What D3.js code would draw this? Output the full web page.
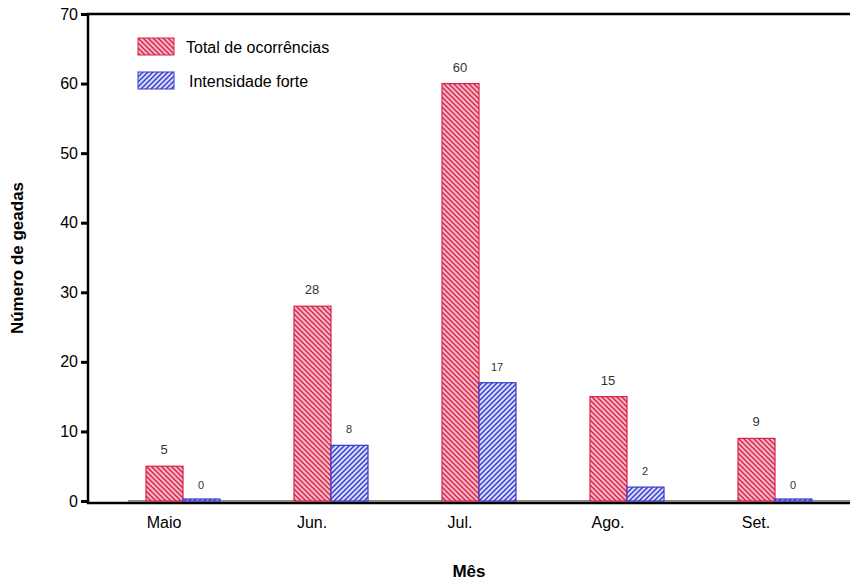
<!DOCTYPE html>
<html><head><meta charset="utf-8">
<script src="https://cdn.jsdelivr.net/npm/d3@7"></script>
<style>body{margin:0;background:#fff}text{font-family:Arial,"Liberation Sans",sans-serif}</style>
</head><body><div id="chart"></div>
<script>
const months = ["Maio", "Jun.", "Jul.", "Ago.", "Set."];
const total = [5, 28, 60, 15, 9];
const forte = [0, 8, 17, 2, 0];
const yTicks = [0, 10, 20, 30, 40, 50, 60, 70];

const W = 857, H = 585;

const svg = d3.select("#chart").append("svg").attr("width", W).attr("height", H);
const defs = svg.append("defs");
function hatch(id, bg, line, dir) {
  const p = defs.append("pattern").attr("id", id).attr("patternUnits", "userSpaceOnUse")
    .attr("width", 5).attr("height", 5);
  p.append("rect").attr("width", 5).attr("height", 5).attr("fill", bg);
  const d = dir > 0 ? "M-1,-1 L6,6 M-1,4 L1,6 M4,-1 L6,1" : "M-1,6 L6,-1 M-1,1 L1,-1 M4,6 L6,4";
  p.append("path").attr("d", d).attr("stroke", line).attr("stroke-width", 1.4);
}
hatch("hr", "#f7b8c6", "#d8204a", 1);
hatch("hb", "#d6dcff", "#3838c8", -1);

const x = d3.scaleBand().domain(months).range([90, 830]);
const y = d3.scaleLinear().domain([0, 70]).range([501, 14]);
const bw = 37;

// axes lines: top, left, bottom (no right border)
svg.append("path").attr("d", "M850,14 H88 V503 H850")
  .attr("fill", "none").attr("stroke", "#000").attr("stroke-width", 2.5);
svg.append("line").attr("x1", 128).attr("x2", 850).attr("y1", y(0)).attr("y2", y(0))
  .attr("stroke", "#888").attr("stroke-width", 2);

svg.append("g").attr("transform", "translate(88,0)")
  .call(d3.axisLeft(y).tickValues(yTicks).tickSize(7).tickPadding(3))
  .call(g => g.select(".domain").remove())
  .call(g => g.selectAll("line").attr("stroke-width", 3))
  .call(g => g.selectAll("text").attr("font-size", 16).attr("fill", "#000"));

svg.append("g").attr("transform", "translate(0,503)")
  .call(d3.axisBottom(x).tickSize(0).tickPadding(14))
  .call(g => g.select(".domain").remove())
  .call(g => g.selectAll("text").attr("font-size", 16).attr("fill", "#000"));

const cx = d => x(d) + x.bandwidth() / 2;

svg.selectAll(".rt").data(months).enter().append("rect")
  .attr("x", d => cx(d) - 18).attr("width", bw)
  .attr("y", (d, i) => y(total[i])).attr("height", (d, i) => y(0) - y(total[i]))
  .attr("fill", "url(#hr)").attr("stroke", "#d8204a").attr("stroke-width", 1.2);
svg.selectAll(".bf").data(months).enter().append("rect")
  .attr("x", d => cx(d) + 19).attr("width", bw)
  .attr("y", (d, i) => y(forte[i]) - (forte[i] ? 0 : 2)).attr("height", (d, i) => Math.max(2, y(0) - y(forte[i])))
  .attr("fill", "url(#hb)").attr("stroke", "#3838c8").attr("stroke-width", 1.2);

svg.selectAll(".lt").data(months).enter().append("text")
  .attr("x", d => cx(d)).attr("y", (d, i) => y(total[i]) - 12)
  .attr("text-anchor", "middle").attr("font-size", 13).attr("fill", "#333")
  .text((d, i) => total[i]);
svg.selectAll(".lf").data(months).enter().append("text")
  .attr("x", d => cx(d) + 37).attr("y", (d, i) => y(forte[i]) - 12)
  .attr("text-anchor", "middle").attr("font-size", 11).attr("fill", "#333")
  .text((d, i) => forte[i]);

// legend
const leg = [["Total de ocorrências", "url(#hr)", "#d8204a"], ["Intensidade forte", "url(#hb)", "#3838c8"]];
leg.forEach((l, i) => {
  svg.append("rect").attr("x", 138).attr("y", 38 + i * 34).attr("width", 36).attr("height", 17)
    .attr("fill", l[1]).attr("stroke", l[2]);
  svg.append("text").attr("x", 186 + i * 3).attr("y", 53 + i * 34).attr("font-size", 16).text(l[0]);
});

svg.append("text").attr("x", 469).attr("y", 577).attr("text-anchor", "middle")
  .attr("font-size", 17).attr("font-weight", "bold").text("Mês");
svg.append("text").attr("transform", "translate(23,258) rotate(-90)").attr("text-anchor", "middle")
  .attr("font-size", 17).attr("font-weight", "bold").text("Número de geadas");
</script></body></html>
